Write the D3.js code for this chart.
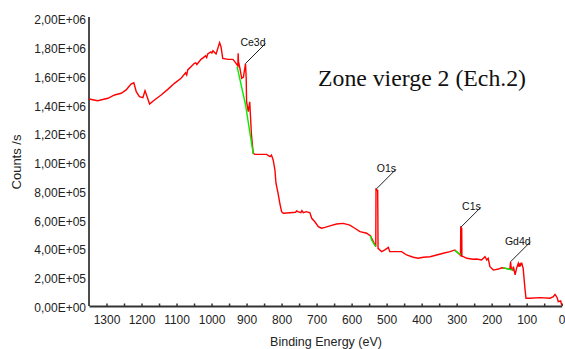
<!DOCTYPE html>
<html>
<head>
<meta charset="utf-8">
<script src="https://cdn.jsdelivr.net/npm/d3@7"></script>
<style>
  html, body { margin: 0; padding: 0; background: #fff; }
  svg { display: block; }
  .tick text { font-family: "Liberation Sans", Arial, sans-serif; font-size: 12px; fill: #222; }
</style>
</head>
<body>
<svg id="chart" width="565" height="349"></svg>
<script>
// XPS survey spectrum: binding energy (eV) vs intensity (counts/s)
const energy = [
  1350, 1325, 1296, 1277, 1258, 1244, 1230, 1222, 1215, 1206, 1196, 1190, 1184, 1177, 1163, 1144,
  1125, 1106, 1087, 1074, 1071, 1068, 1049, 1045, 1042, 1030, 1017, 1014, 1011, 1002, 999, 996, 987, 977, 973, 968, 953, 939, 930, 925,
  924, 923, 919, 914, 909, 903, 901, 900, 895, 891, 888, 886, 881, 876, 857, 843,
  833, 829, 824, 819, 816, 810, 805, 800, 795, 776, 760, 757, 753, 745, 742, 738, 729, 719, 714, 705,
  695, 686, 676, 662, 643, 624, 605, 591, 576, 557, 546, 531, 530.3, 525.5, 524.5, 514,
  505, 495, 491, 476, 457, 443, 424, 410, 395, 376, 357, 338, 319, 305, 289, 288.3,
  285.5, 285, 281, 271, 253, 243, 229, 219, 214, 210, 205, 195, 181, 171, 160, 148,
  146, 144, 140, 138, 133, 129, 124, 122, 120, 118, 116, 114, 110, 108, 105, 102,
  91, 62, 33, 24, 19, 13, 10, 3, 0
];
const counts = [
  1440000, 1428000, 1445000, 1468000, 1480000, 1503000, 1544000, 1553000, 1491000, 1456000, 1449000, 1498000, 1456000, 1405000, 1433000, 1468000,
  1507000, 1549000, 1584000, 1622000, 1608000, 1642000, 1688000, 1692000, 1680000, 1716000, 1740000, 1728000, 1753000, 1768000, 1760000, 1776000, 1753000, 1832000, 1804000, 1723000, 1716000, 1716000, 1688000, 1670000,
  1758000, 1700000, 1654000, 1584000, 1593000, 1687000, 1584000, 1421000, 1352000, 1421000, 1282000, 1190000, 1062000, 1055000, 1055000, 1055000,
  1039000, 1050000, 1016000, 946000, 854000, 784000, 714000, 656000, 645000, 649000, 652000, 662000, 656000, 649000, 664000, 649000, 656000, 649000, 610000, 586000,
  552000, 541000, 547000, 557000, 570000, 575000, 563000, 541000, 517000, 506000, 487000, 413000, 812000, 805000, 401000, 378000,
  390000, 408000, 378000, 378000, 378000, 355000, 339000, 332000, 339000, 343000, 355000, 367000, 378000, 390000, 352000, 547000,
  540000, 346000, 343000, 332000, 325000, 327000, 320000, 343000, 320000, 332000, 273000, 250000, 257000, 266000, 262000, 255000,
  308000, 260000, 250000, 273000, 216000, 262000, 297000, 272000, 297000, 275000, 297000, 297000, 262000, 204000, 123000, 54000,
  54000, 58000, 54000, 65000, 81000, 58000, 30000, 35000, 7000
];

// Background (baseline) segments under the fitted peaks
const bgCe3dEnergy = [927, 903, 881];
const bgCe3dCounts = [1665000, 1400000, 1058000];
const bgO1sEnergy = [546, 543, 531];
const bgO1sCounts = [487000, 459000, 413000];
const bgC1sEnergy = [305, 296, 288];
const bgC1sCounts = [385000, 370000, 358000];
const bgGd4dEnergy = [167, 140];
const bgGd4dCounts = [266000, 250000];

// Peak annotations
const peakNames = ["Ce3d", "O1s", "C1s", "Gd4d"];
const peakEnergy = [903, 530.3, 288.3, 146];
const peakCounts = [1687000, 812000, 547000, 308000];

// Axis ticks
const yTickValues = [0, 200000, 400000, 600000, 800000, 1000000, 1200000, 1400000, 1600000, 1800000, 2000000];
const yTickLabels = ["0,00E+00", "2,00E+05", "4,00E+05", "6,00E+05", "8,00E+05", "1,00E+06",
                     "1,20E+06", "1,40E+06", "1,60E+06", "1,80E+06", "2,00E+06"];
const xTickValues = d3.range(0, 1301, 50);
const xTickLabels = ["1300", "1200", "1100", "1000", "900", "800", "700", "600", "500", "400", "300", "200", "100", "0"];

const titleText = "Zone vierge 2 (Ech.2)";
const xTitle = "Binding Energy (eV)";
const yTitle = "Counts /s";

const svg = d3.select("#chart");

const x = d3.scaleLinear().domain([1350, 0]).range([89, 561.7]);
const y = d3.scaleLinear().domain([0, 2000000]).range([306, 18.5]);

// Y axis
const yAxis = svg.append("g")
  .attr("transform", "translate(89,0)")
  .call(d3.axisLeft(y)
    .tickValues(yTickValues)
    .tickSize(0)
    .tickPadding(3)
    .tickFormat((d, i) => yTickLabels[i]));
yAxis.select(".domain").attr("stroke", "#111").attr("stroke-width", 1.5)
  .attr("d", "M0,17V306");
yAxis.selectAll(".tick text").attr("dy", "0.45em");

// X axis
const xAxis = svg.append("g")
  .attr("transform", "translate(0,306)")
  .call(d3.axisBottom(x)
    .tickValues(xTickValues)
    .tickSizeInner(-2.5)
    .tickSizeOuter(0)
    .tickPadding(9.5)
    .tickFormat(d => (d % 100 === 0 && xTickLabels.includes(String(d))) ? String(d) : ""));
xAxis.select(".domain").attr("stroke", "#333").attr("stroke-width", 2);
xAxis.selectAll(".tick line").attr("stroke", "#333").attr("stroke-width", 1.5);

// Spectrum
const pts = energy.map((e, i) => [e, counts[i]]);
const line = d3.line().x(d => x(d[0])).y(d => y(d[1]));
svg.append("path")
  .datum(pts)
  .attr("fill", "none")
  .attr("stroke", "#ff0000")
  .attr("stroke-width", 1.4)
  .attr("stroke-linejoin", "miter")
  .attr("d", line);

// Backgrounds drawn over the spectrum
[[bgCe3dEnergy, bgCe3dCounts], [bgO1sEnergy, bgO1sCounts], [bgC1sEnergy, bgC1sCounts], [bgGd4dEnergy, bgGd4dCounts]]
  .forEach(([es, cs]) => {
    svg.append("path")
      .datum(es.map((e, i) => [e, cs[i]]))
      .attr("fill", "none")
      .attr("stroke", "#00ee00")
      .attr("stroke-width", 1.4)
      .attr("d", line);
  });

// Peak labels with leader lines
const ann = svg.append("g");
peakNames.forEach((name, i) => {
  const px = x(peakEnergy[i]), py = y(peakCounts[i]);
  const ex = px + 20, ey = py - 20;
  ann.append("line")
    .attr("x1", px).attr("y1", py).attr("x2", ex).attr("y2", ey)
    .attr("stroke", "#222").attr("stroke-width", 1);
  ann.append("text")
    .attr("x", ex).attr("y", ey + 3)
    .attr("text-anchor", "end")
    .attr("font-family", "Liberation Sans, Arial, sans-serif")
    .attr("font-size", 10.5)
    .attr("fill", "#111")
    .text(name);
});

// Title
svg.append("text")
  .attr("x", 318).attr("y", 86)
  .attr("font-family", "Liberation Serif, Times New Roman, serif")
  .attr("font-size", 23)
  .attr("textLength", 208)
  .attr("lengthAdjust", "spacingAndGlyphs")
  .attr("fill", "#111")
  .text(titleText);

// Axis titles
svg.append("text")
  .attr("x", 326).attr("y", 346)
  .attr("text-anchor", "middle")
  .attr("font-family", "Liberation Sans, Arial, sans-serif")
  .attr("font-size", 12.5)
  .attr("fill", "#222")
  .text(xTitle);

svg.append("text")
  .attr("transform", "translate(21,162) rotate(-90)")
  .attr("text-anchor", "middle")
  .attr("font-family", "Liberation Sans, Arial, sans-serif")
  .attr("font-size", 13)
  .attr("fill", "#222")
  .text(yTitle);
</script>
</body>
</html>
